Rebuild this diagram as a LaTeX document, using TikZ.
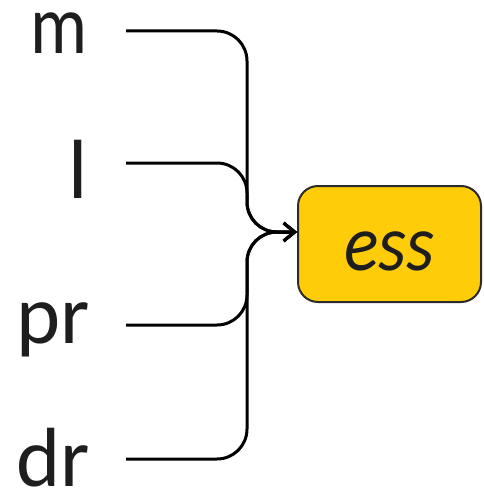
\documentclass[tikz,border=0pt]{standalone}
\usepackage{fontspec}
\setmainfont{Carlito}
\newfontfamily\lblfont{Carlito}
\newfontfamily\narrowfont[FakeStretch=0.85]{Carlito}
\newfontfamily\essfont[FakeStretch=0.9]{Carlito}
\usetikzlibrary{arrows.meta}
\definecolor{boxfill}{HTML}{FFCC0A}
\definecolor{boxline}{HTML}{2B2B2B}
\definecolor{txt}{HTML}{1E1E1E}
\begin{document}
\begin{tikzpicture}[x=1pt,y=-1pt,
  lbl/.style={anchor=base east, inner sep=0pt, text=txt,
    font=\lblfont\fontsize{84}{84}\selectfont},
  essbox/.style={draw=boxline, line width=2pt, fill=boxfill, rounded corners=20pt,
    minimum width=183pt, minimum height=116pt, inner sep=0pt,
    text height=52pt, text depth=0pt, text=txt,
    font=\essfont\itshape\fontsize{80}{80}\selectfont},
  conn/.style={line width=3pt, rounded corners=30pt,
    -{Straight Barb[length=11pt,width=18pt]}}]
\useasboundingbox (0,0) rectangle (483,489);
\node[essbox] (ess) at (389.5,244) {ess};
\node[lbl, font=\narrowfont\fontsize{84}{84}\selectfont] (m) at (88,54) {m};
\node[lbl] (l) at (88,198) {l};
\node[lbl] (pr) at (90,343) {pr};
\node[lbl] (dr) at (90,486) {dr};
\coordinate (sm) at (126,31);
\coordinate (sl) at (126,163);
\coordinate (spr) at (126,325);
\coordinate (sdr) at (126,459);
\coordinate (join) at (247,232);
\coordinate (tip) at (ess.west |- join);
\draw[conn] (sm) -| (join) -- (tip);
\draw[conn] (sl) -| (join) -- (tip);
\draw[conn] (spr) -| (join) -- (tip);
\draw[conn] (sdr) -| (join) -- (tip);
\end{tikzpicture}
\end{document}
